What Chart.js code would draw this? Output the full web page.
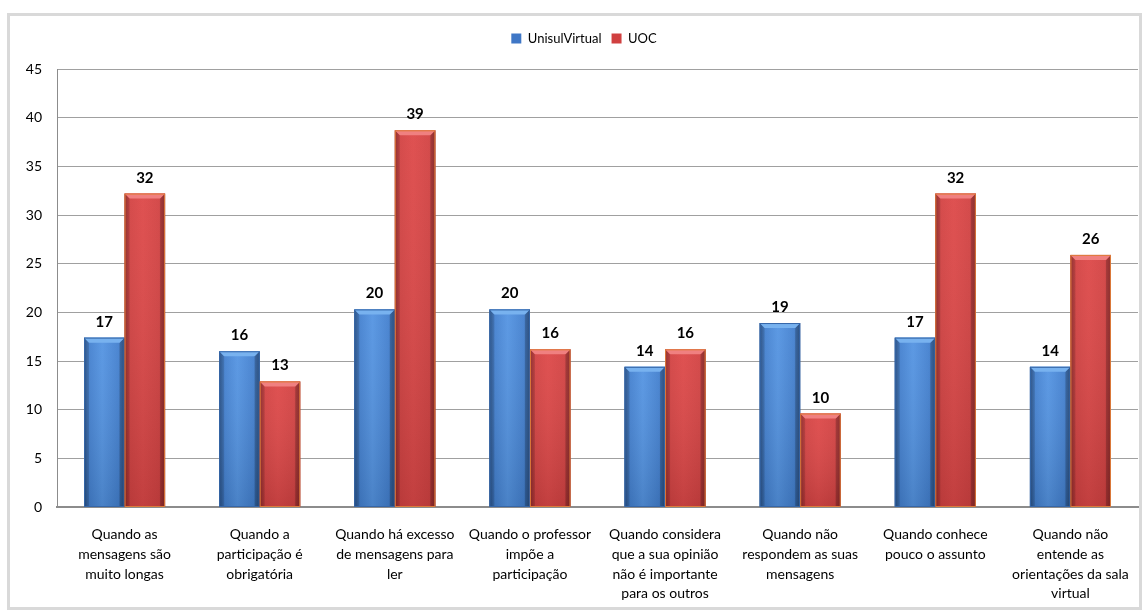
<!DOCTYPE html>
<html>
<head>
<meta charset="utf-8">
<script src="https://cdn.jsdelivr.net/npm/chart.js@4.4.1/dist/chart.umd.min.js"></script>
<style>
  html, body { margin: 0; padding: 0; background: #fff; }
  #wrap { width: 1144px; height: 615px; }
</style>
</head>
<body>
<div id="wrap"><canvas id="myChart" width="1144" height="615"></canvas></div>
<script>
var categorias = [
    ["Quando as", "mensagens são", "muito longas"],
    ["Quando a", "participação é", "obrigatória"],
    ["Quando há excesso", "de mensagens para", "ler"],
    ["Quando o professor", "impõe a", "participação"],
    ["Quando considera", "que a sua opinião", "não é importante", "para os outros"],
    ["Quando não", "respondem as suas", "mensagens"],
    ["Quando conhece", "pouco o assunto"],
    ["Quando não", "entende as", "orientações da sala", "virtual"]
];
var unisul = [17.4, 16.0, 20.3, 20.3, 14.4, 18.9, 17.4, 14.4];
var uoc = [32.2, 12.9, 38.7, 16.2, 16.2, 9.6, 32.2, 25.9];
var yTicks = [0, 5, 10, 15, 20, 25, 30, 35, 40, 45];

// cores de cada série: base, borda, luz e sombra
var estilos = [
    { base: '#3f77c6', borda: '#3566a8', luz: '#5494e2', meio: '#4380cf', sombra: '#2d5a96', topo: '#78b2ef' },
    { base: '#d04040', borda: '#dd7a3a', luz: '#dd4848', meio: '#d24242', sombra: '#a52f2f', topo: '#f08080' }
];

// moldura cinza em volta do gráfico
var moldura = {
    id: 'moldura',
    beforeDraw: function (chart) {
        var c = chart.ctx;
        c.save();
        c.fillStyle = '#fff';
        c.fillRect(0, 0, chart.width, chart.height);
        c.strokeStyle = '#d9d9d9';
        c.lineWidth = 3;
        c.strokeRect(8.5, 14.5, 1132, 594);
        c.restore();
    }
};

// espaço extra abaixo da legenda e legenda um pouco à direita
var ajusteLegenda = {
    id: 'ajusteLegenda',
    beforeInit: function (chart) {
        var fitOrig = chart.legend.fit;
        chart.legend.fit = function () {
            fitOrig.bind(chart.legend)();
            this.height += 14;
        };
    },
    afterLayout: function (chart) {
        chart.legend.left += 10;
        chart.legend.right += 10;
    }
};

// barras com efeito "cilindro" e chanfro no topo
var barras3d = {
    id: 'barras3d',
    afterDatasetsDraw: function (chart) {
        var c = chart.ctx;
        chart.data.datasets.forEach(function (ds, di) {
            var meta = chart.getDatasetMeta(di);
            var e = estilos[di];
            meta.data.forEach(function (bar) {
                var p = bar.getProps(['x', 'y', 'base', 'width'], true);
                var l = p.x - p.width / 2, r = p.x + p.width / 2;
                var t = p.y, b = p.base, w = p.width;
                c.save();
                var g = c.createLinearGradient(l, 0, r, 0);
                g.addColorStop(0, e.sombra);
                g.addColorStop(0.12, e.meio);
                g.addColorStop(0.45, e.luz);
                g.addColorStop(0.85, e.meio);
                g.addColorStop(1, e.sombra);
                c.fillStyle = g;
                c.fillRect(l, t, w, b - t);
                // escurece levemente em direção à base
                var gv = c.createLinearGradient(0, t, 0, b);
                gv.addColorStop(0, 'rgba(255,255,255,0.05)');
                gv.addColorStop(1, 'rgba(0,0,0,0.12)');
                c.fillStyle = gv;
                c.fillRect(l, t, w, b - t);
                // laterais
                var bv = 5;
                c.fillStyle = 'rgba(0,0,0,0.13)';
                c.beginPath();
                c.moveTo(l, t); c.lineTo(l + bv, t + bv); c.lineTo(l + bv, b); c.lineTo(l, b);
                c.closePath(); c.fill();
                c.fillStyle = 'rgba(0,0,0,0.18)';
                c.beginPath();
                c.moveTo(r, t); c.lineTo(r - bv, t + bv); c.lineTo(r - bv, b); c.lineTo(r, b);
                c.closePath(); c.fill();
                // chanfro de cima
                c.fillStyle = e.topo;
                c.beginPath();
                c.moveTo(l, t); c.lineTo(r, t); c.lineTo(r - bv, t + bv); c.lineTo(l + bv, t + bv);
                c.closePath(); c.fill();
                c.strokeStyle = e.borda;
                c.lineWidth = 1;
                c.strokeRect(l + 0.5, t + 0.5, w - 1, b - t - 0.5);
                c.restore();
            });
        });
    }
};

// valores arredondados acima das barras
var rotulos = {
    id: 'rotulos',
    afterDatasetsDraw: function (chart) {
        var c = chart.ctx;
        c.save();
        c.font = 'bold 15px Lato';
        c.fillStyle = '#000';
        c.textAlign = 'center';
        c.textBaseline = 'alphabetic';
        chart.data.datasets.forEach(function (ds, di) {
            var meta = chart.getDatasetMeta(di);
            meta.data.forEach(function (bar, i) {
                c.fillText(Math.round(ds.data[i]), bar.x, bar.y - 11);
            });
        });
        c.restore();
    }
};

var ctx = document.getElementById('myChart').getContext('2d');
var myChart = new Chart(ctx, {
    type: 'bar',
    data: {
        labels: categorias,
        datasets: [
            { label: 'UnisulVirtual', data: unisul, backgroundColor: estilos[0].base, borderWidth: 0 },
            { label: 'UOC', data: uoc, backgroundColor: estilos[1].base, borderWidth: 0 }
        ]
    },
    plugins: [moldura, ajusteLegenda, barras3d, rotulos],
    options: {
        responsive: false,
        animation: false,
        layout: { padding: { left: 10, right: 6, top: 22, bottom: 8 } },
        datasets: { bar: { barPercentage: 1, categoryPercentage: 0.6 } },
        plugins: {
            tooltip: { enabled: false },
            legend: {
                position: 'top',
                labels: {
                    boxWidth: 10, boxHeight: 10,
                    color: '#000',
                    padding: 10,
                    font: { family: 'Lato', size: 13 }
                }
            }
        },
        scales: {
            x: {
                grid: { display: false },
                border: { display: true, color: '#8c8c8c', width: 2 },
                afterFit: function (s) { s.height = 100; },
                ticks: {
                    autoSkip: false, maxRotation: 0, minRotation: 0,
                    color: '#000', padding: 10,
                    font: { family: 'Lato', size: 14, lineHeight: 1.4 }
                }
            },
            y: {
                min: 0, max: 45,
                afterFit: function (s) { s.width = 47; },
                afterBuildTicks: function (s) { s.ticks = yTicks.map(function (v) { return { value: v }; }); },
                grid: { color: '#a0a0a0', lineWidth: 1, drawTicks: false },
                border: { display: true, color: '#8c8c8c', width: 1 },
                ticks: {
                    color: '#000', padding: 15,
                    font: { family: 'Lato', size: 14 }
                }
            }
        }
    }
});
</script>
</body>
</html>
